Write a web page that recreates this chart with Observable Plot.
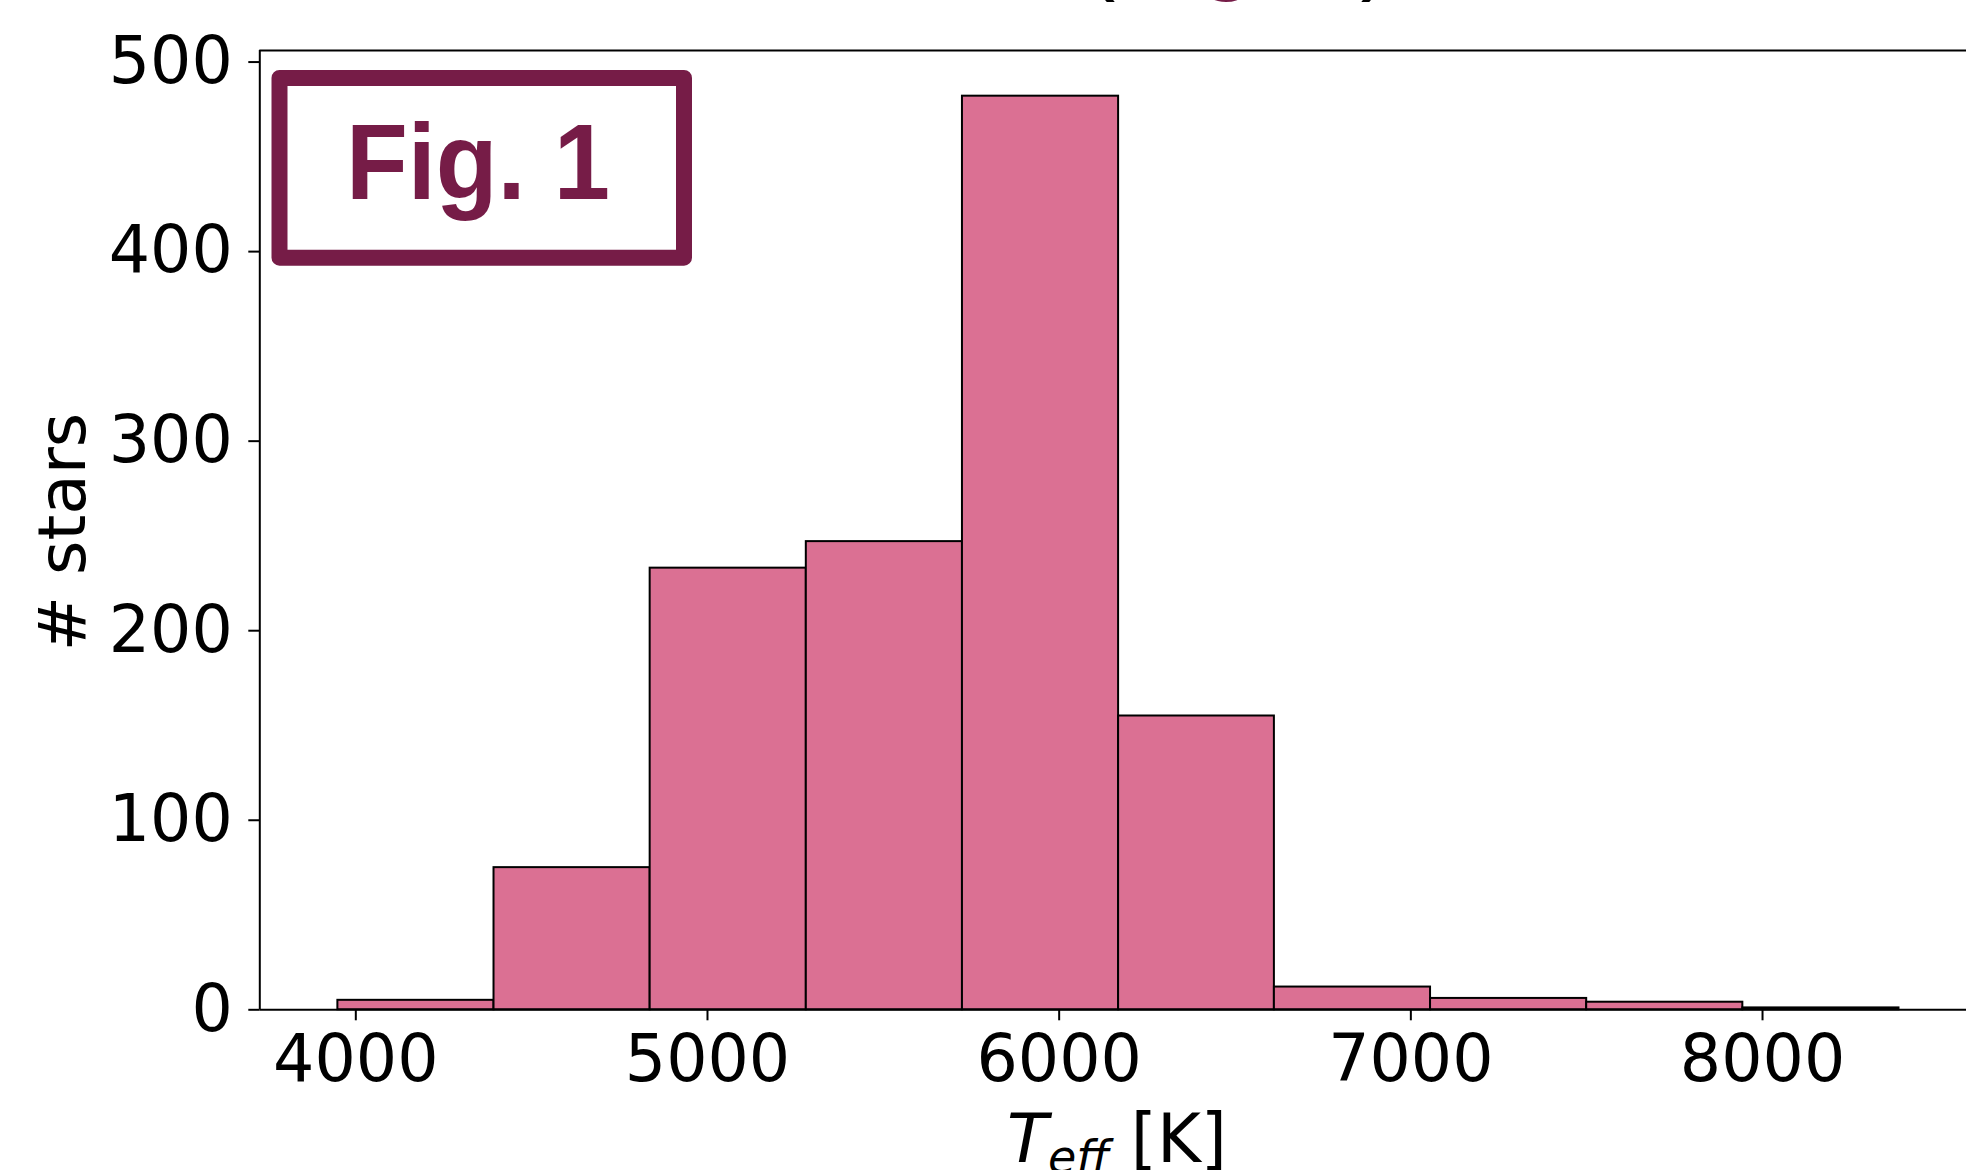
<!DOCTYPE html>
<html>
<head>
<meta charset="utf-8">
<script src="https://cdn.jsdelivr.net/npm/d3@7"></script>
<script src="https://cdn.jsdelivr.net/npm/@observablehq/plot@0.6"></script>
<style>
  html, body { margin: 0; padding: 0; background: #fff; overflow: hidden; }
  #chart { position: relative; width: 1966px; height: 1170px; }
</style>
</head>
<body>
<div id="chart"></div>
<script>
// Histogram of effective temperatures: bin edges (K) and counts (# stars)
const binEdges = [3949, 4393, 4837, 5281, 5725, 6169, 6612, 7056, 7500, 7944, 8388];
const counts = [5, 75, 233, 247, 482, 155, 12, 6, 4, 1];
const xTicks = [4000, 5000, 6000, 7000, 8000];
const yTicks = [0, 100, 200, 300, 400, 500];
const xLabelMain = "T";
const xLabelSub = "eff";
const xLabelUnit = " [K]";
const yLabel = "# stars";
const badgeText = "Fig. 1";
const clippedTitle = ["(", "Fig. 1", ")"];

const bins = counts.map((c, i) => ({x1: binEdges[i], x2: binEdges[i + 1], count: c}));

const xDomain = [3727, 8580];
const yDomain = [0, 506.1];

const W = 1966, H = 1170;
const mL = 259.3, mT = 50, mB = 160.7, mR = 0;

const chart = Plot.plot({
  width: W,
  height: H,
  marginLeft: mL,
  marginRight: mR,
  marginTop: mT,
  marginBottom: mB,
  style: {fontFamily: "DejaVu Sans", fontSize: "65px", color: "black", background: "white"},
  x: {domain: xDomain},
  y: {domain: yDomain},
  marks: [
    Plot.rect(bins, {x1: "x1", x2: "x2", y1: 0, y2: "count", fill: "#DB7093", stroke: "black", strokeWidth: 2}),
    Plot.ruleY([0], {stroke: "black", strokeWidth: 2}),
    Plot.ruleY([yDomain[1]], {stroke: "black", strokeWidth: 2}),
    Plot.ruleX([xDomain[0]], {stroke: "black", strokeWidth: 2}),
    Plot.axisX({ticks: xTicks, tickSize: 11, tickPadding: 14, tickFormat: d3.format("d"), label: null, strokeWidth: 2, fontSize: 65}),
    Plot.axisY({ticks: yTicks, tickSize: 11, tickPadding: 16, tickFormat: d3.format("d"), label: null, strokeWidth: 2, fontSize: 65})
  ]
});

document.getElementById("chart").appendChild(chart);
const svg = d3.select(chart);

// y-axis title
svg.append("text")
  .attr("transform", "translate(85,532) rotate(-90)")
  .attr("text-anchor", "middle")
  .attr("font-family", "DejaVu Sans")
  .attr("font-size", 66)
  .attr("fill", "black")
  .text(yLabel);

// x-axis title: T_eff [K]
const xl = svg.append("text")
  .attr("x", 1117)
  .attr("y", 1161.5)
  .attr("text-anchor", "middle")
  .attr("font-family", "DejaVu Sans")
  .attr("font-size", 67)
  .attr("fill", "black");
xl.append("tspan").attr("font-style", "italic").text(xLabelMain);
xl.append("tspan").attr("font-style", "italic").attr("font-size", 46).attr("dy", 11).text(xLabelSub);
xl.append("tspan").attr("dy", -11).text(xLabelUnit);

// "Fig. 1" badge
const badgeColor = "#761C47";
svg.append("rect")
  .attr("x", 279.5).attr("y", 78)
  .attr("width", 404.5).attr("height", 179.7)
  .attr("fill", "white")
  .attr("stroke", badgeColor)
  .attr("stroke-width", 16)
  .attr("stroke-linejoin", "round");
svg.append("text")
  .attr("x", 478).attr("y", 199.3)
  .attr("text-anchor", "middle")
  .attr("font-family", "Liberation Sans, Arial, sans-serif")
  .attr("font-weight", "bold")
  .attr("font-size", 108)
  .attr("textLength", 264)
  .attr("lengthAdjust", "spacingAndGlyphs")
  .attr("fill", badgeColor)
  .text(badgeText);

// clipped title line above the frame (only descenders visible)
const tt = svg.append("text")
  .attr("x", 1238).attr("y", -18)
  .attr("font-family", "Liberation Sans, Arial, sans-serif")
  .attr("font-size", 94)
  .attr("fill", "black");
tt.append("tspan").text(clippedTitle[0]);
tt.append("tspan").attr("font-weight", "bold").attr("fill", badgeColor).text(clippedTitle[1]);
tt.append("tspan").text(clippedTitle[2]);
</script>
</body>
</html>
